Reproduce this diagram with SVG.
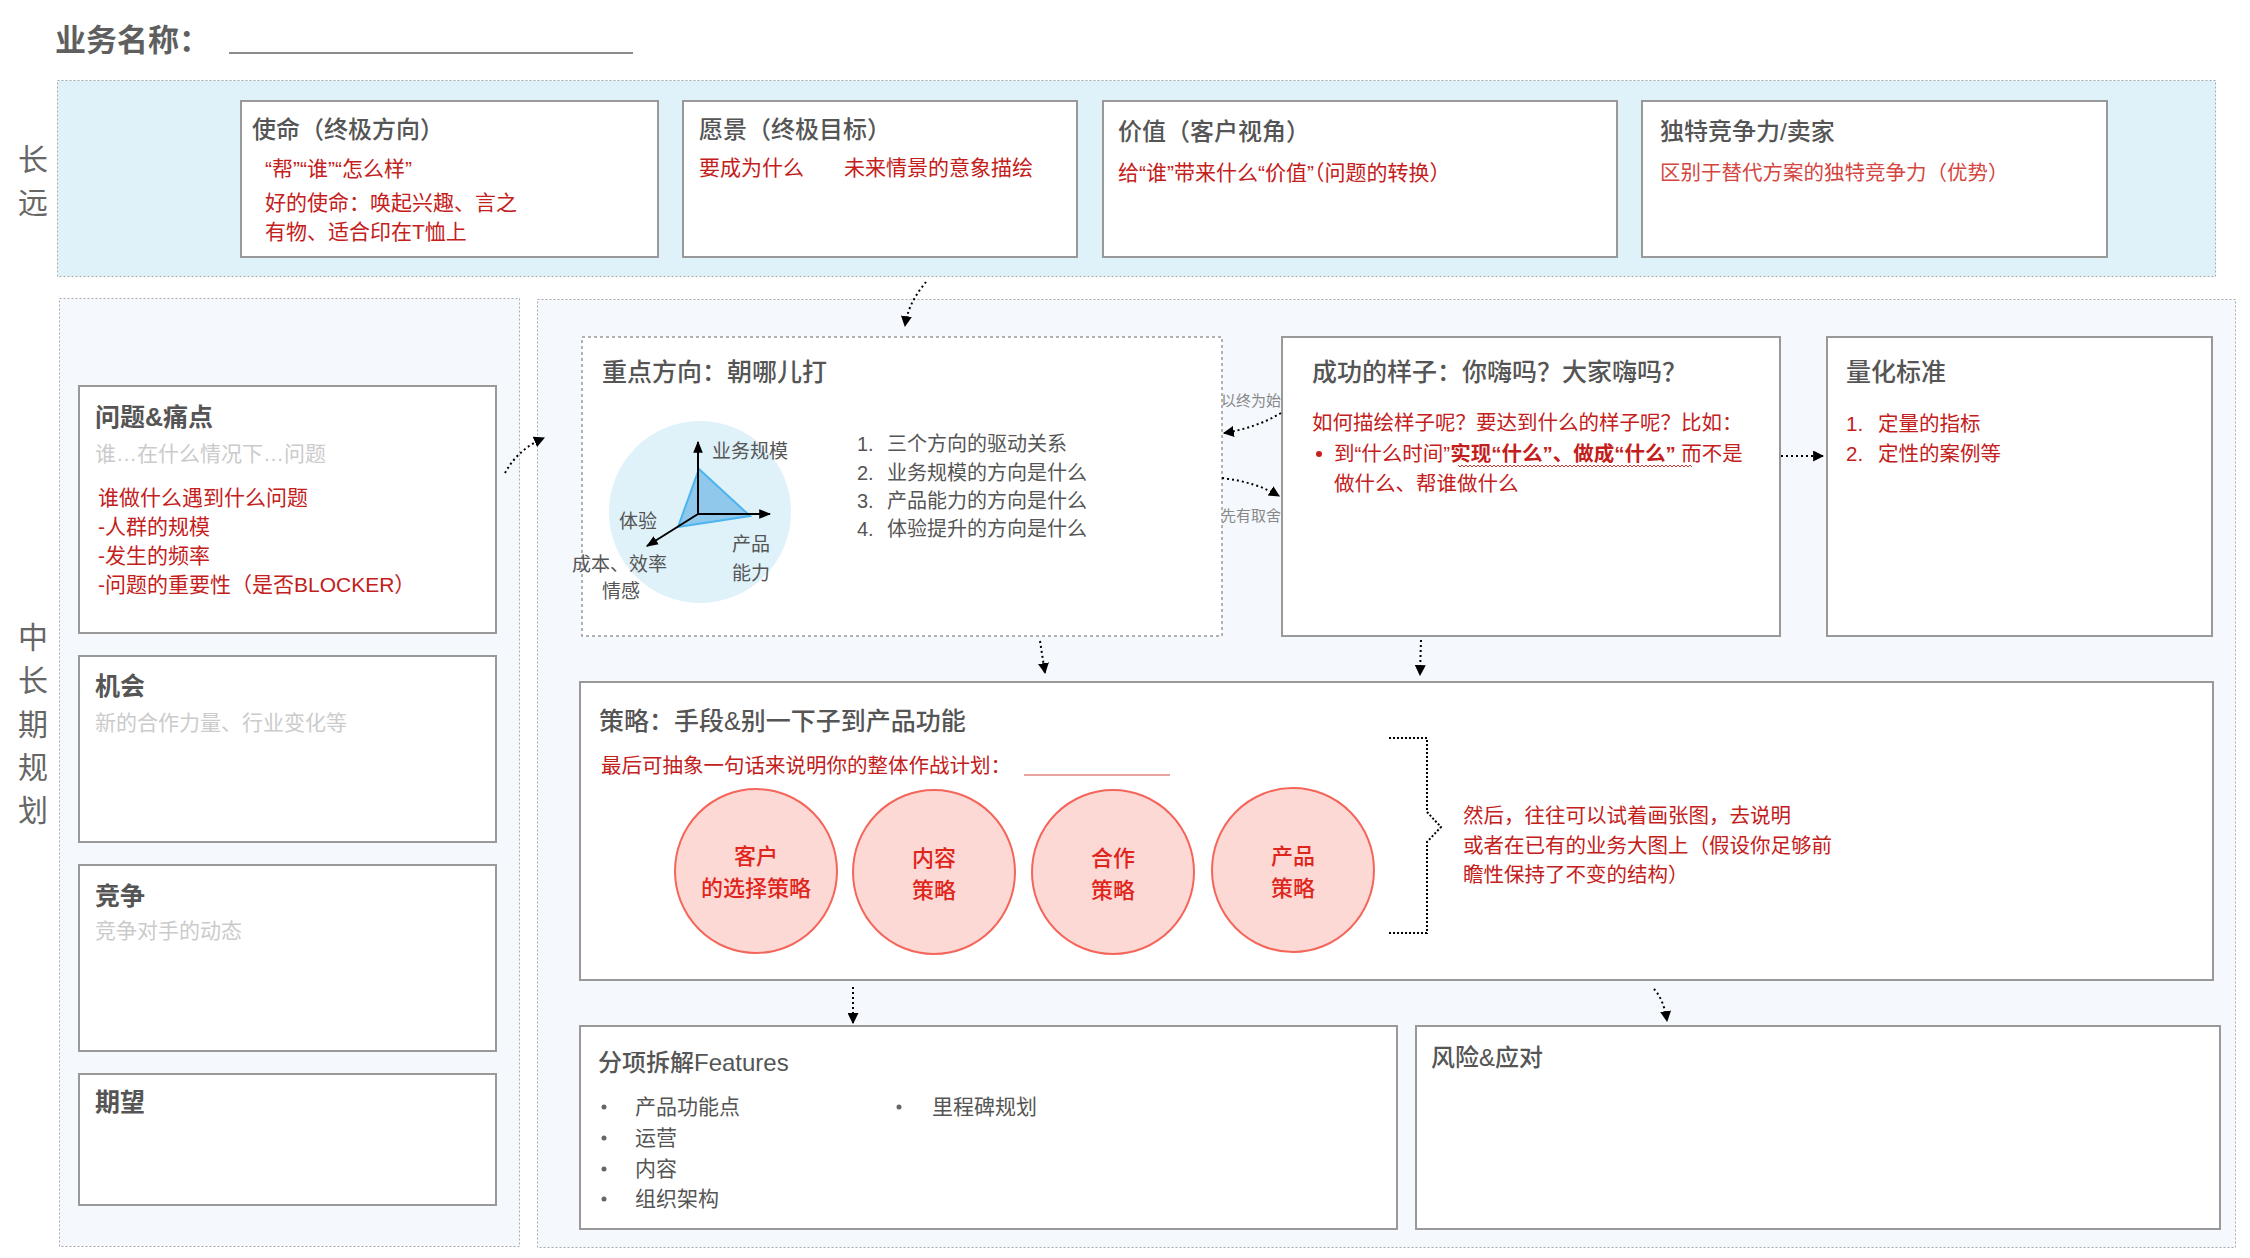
<svg xmlns="http://www.w3.org/2000/svg" width="2250" height="1258" viewBox="0 0 2250 1258">
<defs>
<style>
text{font-family:"Liberation Sans","Noto Sans CJK SC",sans-serif;}
.box{fill:#fff;stroke:#999;stroke-width:2;}
.panel{stroke:#aaa;stroke-width:1;stroke-dasharray:2 2;}
.t24{font-size:24px;fill:#555;font-weight:500;}
.t25{font-size:25px;fill:#555;font-weight:500;}
.tb{font-size:25px;fill:#555;font-weight:700;}
.red{font-size:21px;fill:#c4201b;}
.red2{font-size:20.5px;fill:#c4201b;}
.hint{font-size:21px;fill:#cbcbcb;}
.gray{font-size:20px;fill:#555;}
.lab{font-size:19px;fill:#555;}
.side{font-size:30px;fill:#666;}
.small{font-size:15px;fill:#888;}
.circ{fill:#fdd9d6;stroke:#f4655a;stroke-width:2;}
.ct{font-size:22px;fill:#e0261c;font-weight:500;text-anchor:middle;}
.conn{fill:none;stroke:#000;stroke-width:2;stroke-dasharray:2 3;}
</style>
<marker id="ah" viewBox="0 0 10 10" refX="9" refY="5" markerWidth="11" markerHeight="11" markerUnits="userSpaceOnUse" orient="auto"><path d="M0,0 L10,5 L0,10 z" fill="#000"/></marker>
<marker id="ax" viewBox="0 0 10 10" refX="9" refY="5" markerWidth="12" markerHeight="12" markerUnits="userSpaceOnUse" orient="auto"><path d="M0,1 L10,5 L0,9 z" fill="#000"/></marker>
<pattern id="wave" width="4" height="4" patternUnits="userSpaceOnUse"><path d="M0,3 L2,1 L4,3" fill="none" stroke="#c4201b" stroke-width="0.9"/></pattern>
</defs>
<rect width="2250" height="1258" fill="#fff"/>

<g id="header">
<text x="55" y="51" style="font-size:31px;fill:#5f5f5f;font-weight:700">业务名称：</text>
<line x1="229" y1="53" x2="633" y2="53" stroke="#666" stroke-width="1.5"/>
</g>

<g id="band-long">
<rect class="panel" x="57.5" y="80.5" width="2158" height="196" fill="#dff2fa"/>
<text class="side" x="18" y="170">长</text>
<text class="side" x="18" y="213">远</text>
</g>

<g id="panel-mid-left">
<rect class="panel" x="59.5" y="298.5" width="460" height="948" fill="#f5f9fe"/>
<text class="side" x="18" y="648">中</text>
<text class="side" x="18" y="691">长</text>
<text class="side" x="18" y="735">期</text>
<text class="side" x="18" y="778">规</text>
<text class="side" x="18" y="821">划</text>
</g>
<g id="panel-mid-right">
<rect class="panel" x="537.5" y="299.5" width="1698" height="948" fill="#f5f9fe"/>
</g>

<g id="mission">
<rect class="box" x="241" y="101" width="417" height="156"/>
<text class="t24" x="252" y="138">使命（终极方向）</text>
<text class="red" x="265" y="176">“帮”“谁”“怎么样”</text>
<text class="red" x="265" y="210">好的使命：唤起兴趣、言之</text>
<text class="red" x="265" y="239">有物、适合印在T恤上</text>
</g>
<g id="vision">
<rect class="box" x="683" y="101" width="394" height="156"/>
<text class="t24" x="699" y="138">愿景（终极目标）</text>
<text class="red" x="699" y="175">要成为什么</text>
<text class="red" x="844" y="175">未来情景的意象描绘</text>
</g>
<g id="value">
<rect class="box" x="1103" y="101" width="514" height="156"/>
<text class="t24" x="1118" y="140">价值（客户视角）</text>
<text class="red" x="1118" y="180">给“谁”带来什么“价值”（问题的转换）</text>
</g>
<g id="unique">
<rect class="box" x="1642" y="101" width="465" height="156"/>
<text class="t24" x="1660" y="140">独特竞争力/卖家</text>
<text x="1660" y="180" style="font-size:20.5px;fill:#d4463f">区别于替代方案的独特竞争力（优势）</text>
</g>

<g id="problem">
<rect class="box" x="79" y="386" width="417" height="247"/>
<text class="tb" x="95" y="426">问题&amp;痛点</text>
<text class="hint" x="95" y="461">谁…在什么情况下…问题</text>
<text class="red" x="98" y="505">谁做什么遇到什么问题</text>
<text class="red" x="98" y="534">-人群的规模</text>
<text class="red" x="98" y="563">-发生的频率</text>
<text class="red" x="98" y="592">-问题的重要性（是否BLOCKER）</text>
</g>
<g id="opportunity">
<rect class="box" x="79" y="656" width="417" height="186"/>
<text class="tb" x="95" y="695">机会</text>
<text class="hint" x="95" y="730">新的合作力量、行业变化等</text>
</g>
<g id="competition">
<rect class="box" x="79" y="865" width="417" height="186"/>
<text class="tb" x="95" y="905">竞争</text>
<text class="hint" x="95" y="938">竞争对手的动态</text>
</g>
<g id="expectation">
<rect class="box" x="79" y="1074" width="417" height="131"/>
<text class="tb" x="95" y="1111">期望</text>
</g>

<g id="focus">
<rect x="582" y="337" width="640" height="299" fill="#fff" stroke="#999" stroke-width="1.5" stroke-dasharray="3 3"/>
<text class="t25" x="602" y="381">重点方向：朝哪儿打</text>
<circle cx="700" cy="512" r="91" fill="#dff1f9"/>
<polygon points="699,469 750,516 678,527" fill="#90c8ec" stroke="#4ab5f0" stroke-width="2"/>
<line x1="698" y1="514" x2="698" y2="442" stroke="#000" stroke-width="2" marker-end="url(#ax)"/>
<line x1="698" y1="514" x2="770" y2="514" stroke="#000" stroke-width="2" marker-end="url(#ax)"/>
<line x1="698" y1="514" x2="647" y2="546" stroke="#000" stroke-width="2" marker-end="url(#ax)"/>
<text class="lab" x="712" y="458">业务规模</text>
<text class="lab" x="619" y="528">体验</text>
<text class="lab" x="732" y="551">产品</text>
<text class="lab" x="732" y="580">能力</text>
<text class="lab" x="572" y="571">成本、效率</text>
<text class="lab" x="602" y="598">情感</text>
<text class="gray" x="857" y="451">1.<tspan x="887">三个方向的驱动关系</tspan></text>
<text class="gray" x="857" y="480">2.<tspan x="887">业务规模的方向是什么</tspan></text>
<text class="gray" x="857" y="508">3.<tspan x="887">产品能力的方向是什么</tspan></text>
<text class="gray" x="857" y="536">4.<tspan x="887">体验提升的方向是什么</tspan></text>
</g>

<g id="success">
<rect class="box" x="1282" y="337" width="498" height="299"/>
<text class="t25" x="1312" y="381">成功的样子：你嗨吗？大家嗨吗？</text>
<text class="red2" x="1312" y="430">如何描绘样子呢？要达到什么的样子呢？比如：</text>
<circle cx="1319" cy="454" r="3" fill="#c4201b"/>
<text class="red2" x="1334" y="461">到“什么时间”<tspan font-weight="700">实现“什么”、做成“什么”</tspan> 而不是</text>
<rect x="1458" y="464" width="234" height="4" fill="url(#wave)"/>
<text class="red2" x="1334" y="491">做什么、帮谁做什么</text>
</g>

<g id="quant">
<rect class="box" x="1827" y="337" width="385" height="299"/>
<text class="t25" x="1846" y="381">量化标准</text>
<text class="red2" x="1846" y="431">1.<tspan x="1878">定量的指标</tspan></text>
<text class="red2" x="1846" y="461">2.<tspan x="1878">定性的案例等</tspan></text>
</g>

<g id="strategy">
<rect class="box" x="580" y="682" width="1633" height="298"/>
<text class="t25" x="599" y="730">策略：手段&amp;别一下子到产品功能</text>
<text class="red2" x="601" y="773">最后可抽象一句话来说明你的整体作战计划：</text>
<line x1="1024" y1="775" x2="1170" y2="775" stroke="#d04a44" stroke-width="1.2"/>
<ellipse class="circ" cx="756" cy="871" rx="81" ry="82"/>
<ellipse class="circ" cx="934" cy="872" rx="81" ry="82"/>
<ellipse class="circ" cx="1113" cy="872" rx="81" ry="82"/>
<ellipse class="circ" cx="1293" cy="870" rx="81" ry="82"/>
<text class="ct" x="756" y="864">客户</text>
<text class="ct" x="756" y="896">的选择策略</text>
<text class="ct" x="934" y="866">内容</text>
<text class="ct" x="934" y="898">策略</text>
<text class="ct" x="1113" y="866">合作</text>
<text class="ct" x="1113" y="898">策略</text>
<text class="ct" x="1293" y="864">产品</text>
<text class="ct" x="1293" y="896">策略</text>
<path d="M1389,738 L1427,738 L1427,812 L1441,827 L1427,842 L1427,933 L1389,933" fill="none" stroke="#000" stroke-width="2" stroke-dasharray="2 2"/>
<text class="red2" x="1463" y="823">然后，往往可以试着画张图，去说明</text>
<text class="red2" x="1463" y="853">或者在已有的业务大图上（假设你足够前</text>
<text class="red2" x="1463" y="882">瞻性保持了不变的结构）</text>
</g>

<g id="features">
<rect class="box" x="580" y="1026" width="817" height="203"/>
<text class="t24" x="598" y="1071">分项拆解Features</text>
<g fill="#666">
<circle cx="604" cy="1107" r="2.5"/><circle cx="604" cy="1138" r="2.5"/><circle cx="604" cy="1169" r="2.5"/><circle cx="604" cy="1199" r="2.5"/><circle cx="899" cy="1107" r="2.5"/>
</g>
<text class="gray" x="635" y="1114" style="font-size:21px">产品功能点</text>
<text class="gray" x="635" y="1145" style="font-size:21px">运营</text>
<text class="gray" x="635" y="1176" style="font-size:21px">内容</text>
<text class="gray" x="635" y="1206" style="font-size:21px">组织架构</text>
<text class="gray" x="932" y="1114" style="font-size:21px">里程碑规划</text>
</g>
<g id="risk">
<rect class="box" x="1416" y="1026" width="804" height="203"/>
<text class="t24" x="1431" y="1066">风险&amp;应对</text>
</g>

<g id="connectors">
<path class="conn" d="M926,282 C918,292 908,305 905,326" marker-end="url(#ah)"/>
<path class="conn" d="M505,473 Q518,449 544,438" marker-end="url(#ah)"/>
<path class="conn" d="M1281,413 Q1256,428 1224,433" marker-end="url(#ah)"/>
<path class="conn" d="M1222,478 Q1256,482 1279,496" marker-end="url(#ah)"/>
<path class="conn" d="M1781,456 L1823,456" marker-end="url(#ah)"/>
<path class="conn" d="M1040,641 L1045,673" marker-end="url(#ah)"/>
<path class="conn" d="M1421,640 L1420,675" marker-end="url(#ah)"/>
<path class="conn" d="M853,987 L853,1023" marker-end="url(#ah)"/>
<path class="conn" d="M1654,989 Q1664,1000 1667,1021" marker-end="url(#ah)"/>
<text class="small" x="1221" y="406">以终为始</text>
<text class="small" x="1221" y="521">先有取舍</text>
</g>
</svg>
